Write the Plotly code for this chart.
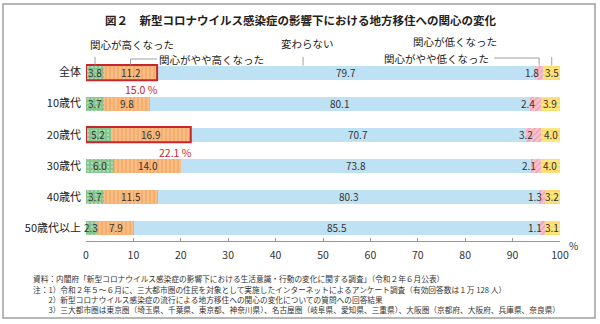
import plotly.graph_objects as go

categories = ["全体", "10歳代", "20歳代", "30歳代", "40歳代", "50歳代以上"]
high = [3.8, 3.7, 5.2, 6.0, 3.7, 2.3]
somewhat_high = [11.2, 9.8, 16.9, 14.0, 11.5, 7.9]
unchanged = [79.7, 80.1, 70.7, 73.8, 80.3, 85.5]
somewhat_low = [1.8, 2.4, 3.2, 2.1, 1.3, 1.1]
low = [3.5, 3.9, 4.0, 4.0, 3.2, 3.1]
series_names = ["関心が高くなった", "関心がやや高くなった", "変わらない", "関心がやや低くなった", "関心が低くなった"]
highlight_rows = [0, 2]
x_ticks = [0, 10, 20, 30, 40, 50, 60, 70, 80, 90, 100]

title = "図２　新型コロナウイルス感染症の影響下における地方移住への関心の変化"
notes = [
    "資料：内閣府「新型コロナウイルス感染症の影響下における生活意識・行動の変化に関する調査」（令和２年６月公表）",
    "注：1）令和２年５～６月に、三大都市圏の住民を対象として実施したインターネットによるアンケート調査（有効回答数は１万 128 人）",
    "　　2）新型コロナウイルス感染症の流行による地方移住への関心の変化についての質問への回答結果",
    "　　3）三大都市圏は東京圏（埼玉県、千葉県、東京都、神奈川県）、名古屋圏（岐阜県、愛知県、三重県）、大阪圏（京都府、大阪府、兵庫県、奈良県）",
]

FONT = "Noto Sans CJK JP"
W, H = 600, 324
L, R, T, B = 86, 40, 57, 83
PW, PH = W - L - R, H - T - B


def px(x):
    return (x - L) / PW


def py(y):
    return (H - B - y) / PH


series = [high, somewhat_high, unchanged, somewhat_low, low]
styles = [
    dict(color="#86c48e", pattern=dict(shape=".", fgcolor="#d9f0d9", bgcolor="#86c48e", size=4, solidity=0.25)),
    dict(color="#f6ae6c", pattern=dict(shape="|", fgcolor="#fbd6ad", bgcolor="#f6ae6c", size=4, solidity=0.4)),
    dict(color="#bfe1f4"),
    dict(color="#f4a6b8", pattern=dict(shape="/", fgcolor="#e87a94", bgcolor="#f8c3cf", size=4, solidity=0.35)),
    dict(color="#fee680", pattern=dict(shape="-", fgcolor="#f3c848", bgcolor="#fee680", size=4, solidity=0.35)),
]

fig = go.Figure()
for name, vals, st in zip(series_names, series, styles):
    fig.add_trace(go.Bar(
        y=categories, x=vals, name=name, orientation="h", width=0.45,
        marker=dict(color=st["color"], pattern=st.get("pattern"), line=dict(width=0)),
        hoverinfo="x+name", showlegend=False,
    ))

annotations = []
shapes = []
lab_font = dict(family=FONT, size=10, color="#333333")
for i, cat in enumerate(categories):
    starts = []
    acc = 0.0
    for vals in series:
        starts.append(acc)
        acc += vals[i]
    for k in (0, 1, 2):
        v = series[k][i]
        annotations.append(dict(x=starts[k] + v / 2, y=cat, text=f"{v:.1f}", showarrow=False,
                                xref="x", yref="y", font=lab_font, xanchor="center", yanchor="middle"))
    v = series[3][i]
    annotations.append(dict(x=starts[3] + v * 0.5, y=cat, text=f"{v:.1f}", showarrow=False,
                            xref="x", yref="y", font=lab_font, xanchor="right", yanchor="middle", xshift=2))
    v = series[4][i]
    annotations.append(dict(x=starts[4] + v / 2, y=cat, text=f"{v:.1f}", showarrow=False,
                            xref="x", yref="y", font=lab_font, xanchor="center", yanchor="middle"))

for i in highlight_rows:
    tot = high[i] + somewhat_high[i]
    shapes.append(dict(type="rect", xref="x", yref="y", x0=0, x1=tot, y0=i - 0.245, y1=i + 0.245,
                       line=dict(color="#c8262c", width=2)))
    annotations.append(dict(x=tot + 0.7, y=i + 0.56, text=f"{tot:.1f} %", showarrow=False, xref="x", yref="y",
                            xanchor="right", yanchor="middle", font=dict(family=FONT, size=10.5, color="#c8262c")))

gray = "#888888"
leg_font = dict(family=FONT, size=10.5, color="#222222")
c0 = high[0] / 2
c1 = high[0] + somewhat_high[0] / 2
c3 = high[0] + somewhat_high[0] + unchanged[0] + somewhat_low[0] / 2
c4 = 100 - low[0] / 2
bar_top = 0 - 0.225
y_of = lambda p: -0.5 + (p - T) / 31.0
shapes += [
    dict(type="line", xref="x", yref="y", x0=c0, x1=c0, y0=y_of(51), y1=bar_top, line=dict(color=gray, width=0.8)),
    dict(type="line", xref="x", yref="y", x0=c1, x1=c1, y0=y_of(59), y1=bar_top, line=dict(color=gray, width=0.8)),
    dict(type="line", xref="x", yref="y", x0=c1, x1=(157 - L) / PW * 100, y0=y_of(59), y1=y_of(59), line=dict(color=gray, width=0.8)),
    dict(type="line", xref="x", yref="y", x0=45.8, x1=45.8, y0=y_of(50), y1=bar_top, line=dict(color=gray, width=0.8)),
    dict(type="line", xref="x", yref="y", x0=c4, x1=c4, y0=y_of(41), y1=bar_top, line=dict(color=gray, width=0.8)),
    dict(type="line", xref="x", yref="y", x0=(503 - L) / PW * 100, x1=c4, y0=y_of(41), y1=y_of(41), line=dict(color=gray, width=0.8)),
    dict(type="line", xref="x", yref="y", x0=c3, x1=c3, y0=y_of(58), y1=bar_top, line=dict(color=gray, width=0.8)),
    dict(type="line", xref="x", yref="y", x0=(494 - L) / PW * 100, x1=c3, y0=y_of(58), y1=y_of(58), line=dict(color=gray, width=0.8)),
]
annotations += [
    dict(x=px(88), y=py(45), xref="paper", yref="paper", text=series_names[0], showarrow=False,
         xanchor="left", yanchor="middle", font=leg_font),
    dict(x=px(157), y=py(59), xref="paper", yref="paper", text=series_names[1], showarrow=False,
         xanchor="left", yanchor="middle", font=leg_font),
    dict(x=px(307), y=py(43), xref="paper", yref="paper", text=series_names[2], showarrow=False,
         xanchor="center", yanchor="middle", font=leg_font),
    dict(x=px(499), y=py(41), xref="paper", yref="paper", text=series_names[4], showarrow=False,
         xanchor="right", yanchor="middle", font=leg_font),
    dict(x=px(491), y=py(58), xref="paper", yref="paper", text=series_names[3], showarrow=False,
         xanchor="right", yanchor="middle", font=leg_font),
    dict(x=px(300), y=py(20), xref="paper", yref="paper", text="<b>" + title + "</b>", showarrow=False,
         xanchor="center", yanchor="middle", font=dict(family=FONT, size=11.5, color="#222222")),
    dict(x=px(567), y=py(245), xref="paper", yref="paper", text="%", showarrow=False,
         xanchor="left", yanchor="middle", font=dict(family=FONT, size=10, color="#333333")),
]
note_y = [278, 289, 299, 309]
for t, yy in zip(notes, note_y):
    annotations.append(dict(x=px(31), y=py(yy), xref="paper", yref="paper", text=t, showarrow=False,
                            xanchor="left", yanchor="middle", font=dict(family=FONT, size=7.7, color="#333333")))

shapes.append(dict(type="rect", xref="paper", yref="paper", x0=px(3), x1=px(595), y0=py(4), y1=py(318),
                   line=dict(color="#a0a0a0", width=1.5), layer="below"))

fig.update_layout(
    barmode="stack",
    width=W, height=H,
    margin=dict(l=L, r=R, t=T, b=B, pad=0),
    paper_bgcolor="white", plot_bgcolor="white",
    font=dict(family=FONT, color="#222222"),
    annotations=annotations, shapes=shapes,
    xaxis=dict(range=[0, 100], tickvals=x_ticks, showgrid=False, zeroline=False,
               showline=True, linecolor="#999999", linewidth=0.8,
               ticks="inside", ticklen=3, tickcolor="#999999",
               tickfont=dict(family=FONT, size=10.5, color="#333333"), ticklabelstandoff=4, fixedrange=True),
    yaxis=dict(categoryorder="array", categoryarray=categories, range=[5.42, -0.5],
               showgrid=False, zeroline=False, showline=False, ticks="",
               tickfont=dict(family=FONT, size=11, color="#222222"), ticklabelstandoff=4, fixedrange=True),
)

fig.write_html("out.html")
